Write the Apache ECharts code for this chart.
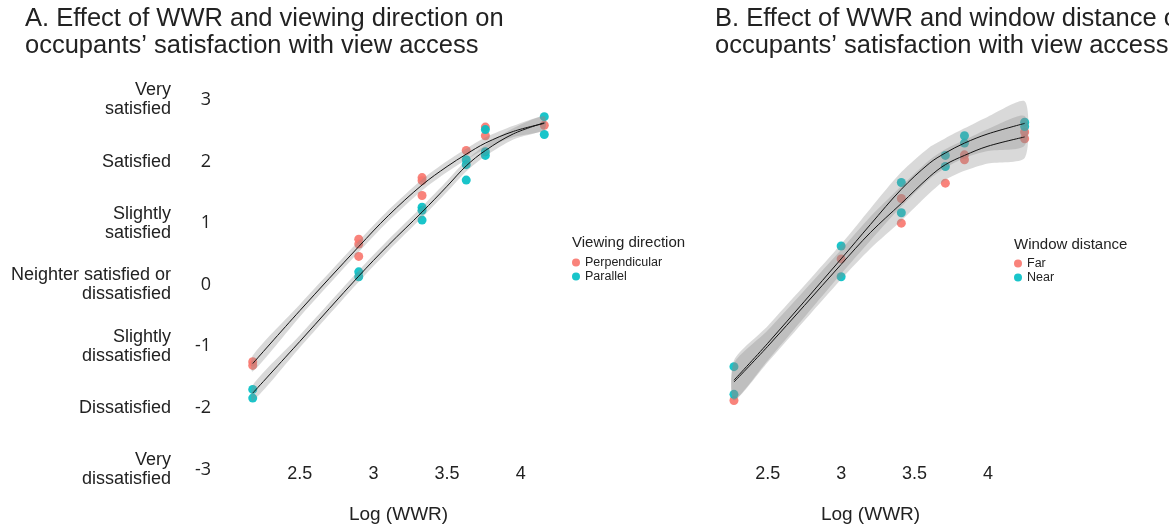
<!DOCTYPE html>
<html><head><meta charset="utf-8">
<script src="https://cdn.jsdelivr.net/npm/echarts@6/dist/echarts.min.js"></script>
<style>html,body{margin:0;padding:0;background:#fff}#c{width:1169px;height:529px}</style>
</head><body><div id="c"></div>
<script>
// ---------- DATA ----------
const yTickValues = [-3, -2, -1, 0, 1, 2, 3];
const yTickNames = ['Very\ndissatisfied', 'Dissatisfied', 'Slightly\ndissatisfied',
  'Neighter satisfied or\ndissatisfied', 'Slightly\nsatisfied', 'Satisfied', 'Very\nsatisfied'];
const xTickValues = [2.5, 3, 3.5, 4];

// Panel A observed points [logWWR, satisfaction]
const perpPts = [[2.18,-1.25],[2.18,-1.31],[2.90,0.74],[2.90,0.66],[2.90,0.46],
  [3.33,1.74],[3.33,1.69],[3.33,1.45],[3.63,2.18],[3.76,2.56],[3.76,2.42],[4.16,2.59]];
const parPts = [[2.18,-1.70],[2.18,-1.84],[2.90,0.21],[2.90,0.13],
  [3.33,1.26],[3.33,1.21],[3.33,1.05],[3.63,2.03],[3.63,1.95],[3.63,1.70],
  [3.76,2.52],[3.76,2.16],[3.76,2.10],[4.16,2.73],[4.16,2.44]];
// Panel A smooth fits
const fitXA = [2.18, 2.5, 2.9, 3.1, 3.33, 3.5, 3.63, 3.76, 3.95, 4.16];
const perpFit = [-1.28, -0.42, 0.62, 1.12, 1.62, 1.92, 2.12, 2.30, 2.49, 2.62];
const perpSE  = [0.13, 0.10, 0.09, 0.09, 0.09, 0.09, 0.09, 0.09, 0.09, 0.11];
const parFit  = [-1.76, -0.92, 0.14, 0.64, 1.18, 1.60, 1.93, 2.18, 2.45, 2.63];
const parSE   = [0.13, 0.10, 0.09, 0.09, 0.09, 0.09, 0.09, 0.09, 0.09, 0.11];

// Panel B observed points
const farPts = [[2.27,-1.88],[3.0,0.42],[3.41,1.40],[3.41,1.00],[3.71,1.65],
  [3.84,2.11],[3.84,2.03],[4.25,2.48],[4.25,2.37]];
const nearPts = [[2.27,-1.33],[2.27,-1.78],[3.0,0.63],[3.0,0.13],[3.41,1.66],[3.41,1.17],
  [3.71,2.10],[3.71,1.92],[3.84,2.42],[3.84,2.30],[4.25,2.64],[4.25,2.57]];
// Panel B smooth fits
const fitXB = [2.27, 2.5, 3.0, 3.2, 3.41, 3.6, 3.71, 3.84, 4.0, 4.25];
const nearFit = [-1.55, -0.95, 0.42, 0.98, 1.55, 1.97, 2.14, 2.30, 2.45, 2.62];
const nearSE  = [0.32, 0.28, 0.24, 0.26, 0.28, 0.26, 0.24, 0.24, 0.28, 0.36];
const farFit  = [-1.58, -1.00, 0.33, 0.85, 1.32, 1.75, 1.95, 2.10, 2.25, 2.40];
const farSE   = [0.30, 0.26, 0.24, 0.26, 0.28, 0.27, 0.25, 0.25, 0.28, 0.34];

// ---------- STYLE ----------
const RED = '#F8766D', TEAL = '#00BFC4';
const BAND = 'rgba(140,140,140,0.33)';
const txt = '#222';
const FONT = 'Liberation Sans';

function band(xi, yi, xs, fit, se) {
  return {
    type: 'custom', xAxisIndex: xi, yAxisIndex: yi, silent: true, z: 4, clip: true,
    data: [[xs[0], fit[0]]],
    renderItem: (params, api) => {
      const up = xs.map((x, i) => api.coord([x, fit[i] + se[i]]));
      const lo = xs.map((x, i) => api.coord([x, fit[i] - se[i]])).reverse();
      return {type: 'polygon', shape: {points: up.concat(lo), smooth: 0.25},
              style: {fill: BAND}};
    }
  };
}
function fitLine(xi, yi, xs, fit) {
  return {type: 'line', xAxisIndex: xi, yAxisIndex: yi, data: xs.map((x, i) => [x, fit[i]]),
    smooth: 0.35, symbol: 'none', lineStyle: {color: '#111', width: 1}, silent: true, z: 5};
}
function pts(name, xi, yi, data, color) {
  return {type: 'scatter', name, xAxisIndex: xi, yAxisIndex: yi, data, symbolSize: 9,
    itemStyle: {color, opacity: 0.9}, z: 3};
}

function xAxis(gi, min, max) {
  return {type: 'value', gridIndex: gi, min, max, name: 'Log (WWR)', nameLocation: 'middle', nameGap: 45,
    nameTextStyle: {fontFamily: FONT, fontSize: 19, color: txt, verticalAlign: 'middle'},
    axisLine: {show: false}, axisTick: {show: false}, splitLine: {show: false},
    axisLabel: {customValues: xTickValues, margin: 5, verticalAlign: 'middle',
      fontFamily: FONT, fontSize: 18, color: txt}};
}
const titleStyle = {fontFamily: FONT, fontSize: 25.5, fontWeight: 'normal', color: txt, lineHeight: 27};
const legTitleStyle = {fontFamily: FONT, fontSize: 15, fontWeight: 'normal', color: txt, lineHeight: 17};
const legText = {fontFamily: FONT, fontSize: 12.5, color: txt, lineHeight: 13};

const option = {
  backgroundColor: '#fff',
  animation: false,
  title: [
    {text: 'A. Effect of WWR and viewing direction on\noccupants\u2019 satisfaction with view access',
     left: 25, top: 5, padding: 0, textStyle: titleStyle},
    {text: 'B. Effect of WWR and window distance on\noccupants\u2019 satisfaction with view access',
     left: 715, top: 5, padding: 0, textStyle: titleStyle},
    {text: 'Viewing direction', left: 572, top: 234, padding: 0, textStyle: legTitleStyle},
    {text: 'Window distance', left: 1014, top: 236, padding: 0, textStyle: legTitleStyle}
  ],
  legend: [
    {data: ['Perpendicular', 'Parallel'], orient: 'vertical', left: 572, top: 256, icon: 'circle',
     itemWidth: 8, itemHeight: 8, itemGap: 1, padding: 0, textStyle: legText},
    {data: ['Far', 'Near'], orient: 'vertical', left: 1014, top: 257, icon: 'circle',
     itemWidth: 8, itemHeight: 8, itemGap: 1, padding: 0, textStyle: legText}
  ],
  grid: [
    {left: 238, top: 100, width: 321, height: 376},
    {left: 709, top: 100, width: 323, height: 376}
  ],
  xAxis: [xAxis(0, 2.08, 4.26), xAxis(1, 2.1, 4.3)],
  yAxis: [
    {type: 'value', gridIndex: 0, min: -3, max: 3, interval: 1, position: 'left',
     axisLine: {show: false}, axisTick: {show: false}, splitLine: {show: false},
     axisLabel: {margin: 27, fontFamily: 'Open Sans', fontSize: 18, color: txt}},
    {type: 'value', gridIndex: 0, min: -3, max: 3, interval: 1, position: 'left', offset: 40,
     axisLine: {show: false}, axisTick: {show: false}, splitLine: {show: false},
     axisLabel: {margin: 27, fontFamily: FONT, fontSize: 18, lineHeight: 19, color: txt, align: 'right',
       formatter: v => yTickNames[yTickValues.indexOf(Math.round(v))] || ''}},
    {type: 'value', gridIndex: 1, min: -3, max: 3, interval: 1, show: false}
  ],
  series: [
    pts('Perpendicular', 0, 0, perpPts, RED),
    pts('Parallel', 0, 0, parPts, TEAL),
    band(0, 0, fitXA, perpFit, perpSE),
    band(0, 0, fitXA, parFit, parSE),
    fitLine(0, 0, fitXA, perpFit),
    fitLine(0, 0, fitXA, parFit),
    pts('Far', 1, 2, farPts, RED),
    pts('Near', 1, 2, nearPts, TEAL),
    band(1, 2, fitXB, farFit, farSE),
    band(1, 2, fitXB, nearFit, nearSE),
    fitLine(1, 2, fitXB, farFit),
    fitLine(1, 2, fitXB, nearFit)
  ]
};
const chart = echarts.init(document.getElementById('c'), null, {renderer: 'canvas'});
chart.setOption(option);
</script></body></html>
